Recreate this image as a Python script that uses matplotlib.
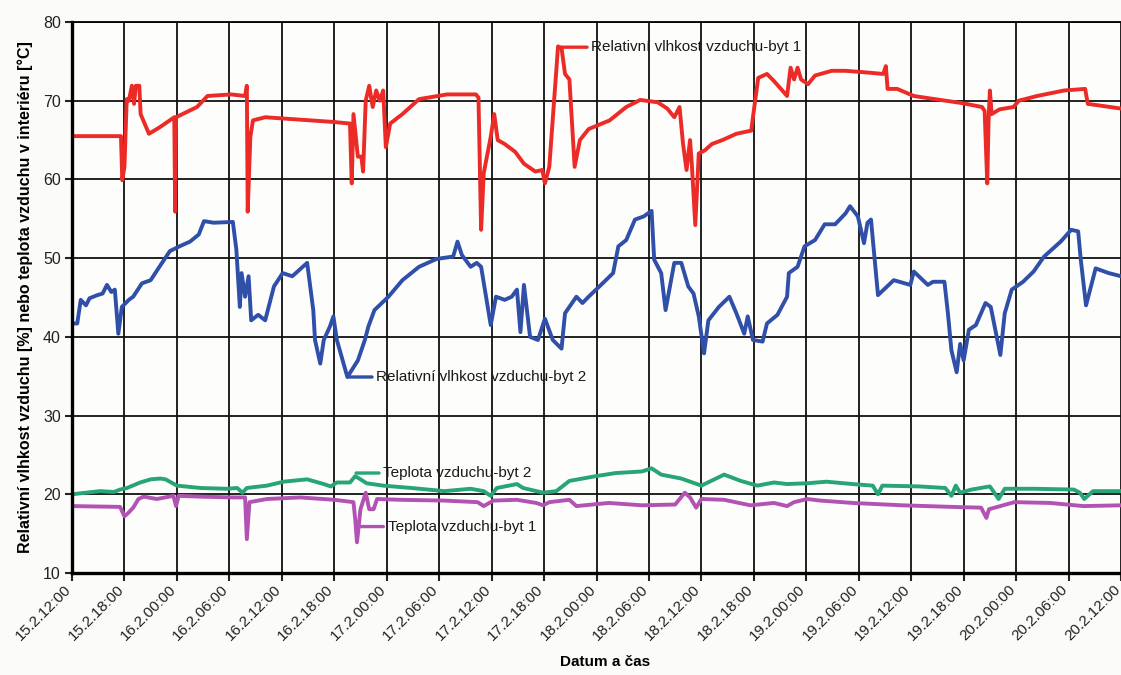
import matplotlib
matplotlib.use("Agg")
import matplotlib.pyplot as plt
import matplotlib.transforms as mtransforms
import numpy as np

plt.rcParams['font.family'] = ['Liberation Sans', 'DejaVu Sans']

# hours since 15.2. 12:00
tick_hours = list(range(0, 121, 6))
tick_labels = ['15.2.12:00', '15.2.18:00', '16.2.00:00', '16.2.06:00', '16.2.12:00',
               '16.2.18:00', '17.2.00:00', '17.2.06:00', '17.2.12:00', '17.2.18:00',
               '18.2.00:00', '18.2.06:00', '18.2.12:00', '18.2.18:00', '19.2.00:00',
               '19.2.06:00', '19.2.12:00', '19.2.18:00', '20.2.00:00', '20.2.06:00',
               '20.2.12:00']

# relative humidity, flat 1 [%]
rh1_h = [0, 5.6, 5.75, 6.0, 6.26, 6.5, 6.85, 7.1, 7.3, 7.7, 7.85, 8.8, 10.0, 11.7, 11.8,
         11.9, 14.3, 15.5, 18.2, 19.8, 20.0, 20.1, 20.4, 20.7, 22.1, 26.0, 29.9, 31.8,
         32.0, 32.2, 32.7, 33.1, 33.3, 33.6, 34.0, 34.4, 34.8, 35.2, 35.6, 35.9, 36.4,
         37.8, 39.7, 42.9, 46.2, 46.5, 46.8, 47.1, 47.9, 48.3, 48.7, 49.5, 50.7, 51.7,
         53.0, 53.8, 54.1, 54.6, 55.6, 56.0, 56.4, 56.9, 57.5, 58.1, 59.1, 61.5, 63.4,
         65.0, 67.0, 68.1, 68.9, 69.5, 69.9, 70.3, 70.7, 70.9, 71.3, 71.7, 72.4, 73.2,
         74.4, 76.0, 77.7, 78.1, 78.5, 79.5, 80.3, 81.1, 81.8, 82.2, 82.6, 83.0, 83.4,
         84.2, 85.0, 86.9, 88.5, 90.8, 92.8, 93.1, 93.3, 94.4, 96.3, 98.7, 101.8, 104.1,
         104.4, 104.7, 104.85, 105.0, 105.2, 106.1, 107.7, 108.3, 110.4, 113.5, 115.9,
         116.2, 117.5, 120.0]
rh1_v = [65.5, 65.5, 59.9, 61.6, 70.2, 70.0, 71.9, 69.6, 71.9, 71.9, 68.3, 65.8, 66.6,
         67.9, 55.9, 67.9, 69.2, 70.6, 70.8, 70.6, 71.9, 55.9, 65.4, 67.5, 67.9, 67.6,
         67.3, 67.1, 59.5, 68.3, 62.9, 62.9, 61.0, 70.0, 71.9, 69.2, 71.3, 70.0, 71.3,
         64.1, 67.1, 68.3, 70.2, 70.8, 70.8, 70.4, 53.6, 60.8, 65.4, 68.3, 65.0, 64.5,
         63.5, 62.0, 61.0, 61.2, 59.5, 61.6, 76.9, 76.7, 73.4, 72.7, 61.6, 65.0, 66.4,
         67.5, 69.2, 70.1, 69.8, 69.0, 67.9, 69.2, 64.5, 61.2, 65.0, 62.0, 54.2, 63.3,
         63.7, 64.5, 65.0, 65.8, 66.2, 69.6, 72.9, 73.4, 72.5, 71.5, 70.6, 74.2, 72.7,
         74.2, 72.7, 72.1, 73.2, 73.8, 73.8, 73.6, 73.4, 74.4, 71.5, 71.5, 70.6, 70.2,
         69.7, 69.2, 68.7, 59.5, 67.5, 71.3, 68.3, 68.9, 69.2, 70.0, 70.6, 71.3, 71.5,
         69.6, 69.4, 69.0]

# relative humidity, flat 2 [%]
rh2_h = [0, 0.6, 1.0, 1.6, 2.0, 2.9, 3.5, 4.0, 4.5, 4.9, 5.3, 5.7, 6.5, 7.0, 8.0, 9.0,
         10.0, 11.2, 12.3, 13.5, 14.5, 15.1, 16.2, 18.4, 18.8, 19.2, 19.4, 19.8, 20.2,
         20.5, 21.3, 22.1, 23.1, 24.1, 25.2, 26.0, 26.9, 27.6, 27.8, 28.4, 28.8, 29.5,
         29.9, 30.3, 31.5, 32.7, 33.5, 33.9, 34.6, 36.2, 37.8, 39.7, 41.7, 43.6, 44.1,
         44.6, 45.6, 46.3, 46.8, 47.9, 48.5, 49.5, 50.3, 50.9, 51.3, 51.7, 52.4, 53.3,
         54.1, 55.0, 56.0, 56.4, 57.7, 58.4, 59.1, 60.7, 61.9, 62.5, 63.4, 64.4, 65.4,
         66.3, 66.6, 67.4, 67.9, 68.9, 69.7, 70.5, 71.1, 71.7, 72.3, 72.8, 74.0, 75.2,
         76.0, 76.9, 77.3, 77.9, 79.0, 79.5, 80.7, 81.8, 82.0, 83.0, 83.8, 85.0, 86.1,
         87.3, 88.5, 89.0, 89.9, 90.6, 91.0, 91.4, 92.2, 94.0, 95.9, 96.3, 97.9, 98.5,
         99.8, 100.2, 100.6, 101.2, 101.6, 102.0, 102.6, 103.4, 104.5, 105.1, 106.2,
         106.7, 107.5, 108.8, 110.0, 111.2, 113.1, 114.3, 115.1, 115.4, 116.0, 117.1,
         118.6, 120.0]
rh2_v = [41.7, 41.7, 44.7, 44.0, 44.9, 45.3, 45.5, 46.6, 45.7, 46.0, 40.4, 43.8, 44.7,
         45.1, 46.8, 47.2, 48.9, 50.9, 51.5, 52.1, 53.0, 54.7, 54.5, 54.6, 51.1, 43.8,
         48.1, 45.1, 47.7, 42.1, 42.8, 42.1, 46.4, 48.1, 47.7, 48.5, 49.4, 43.4, 39.6,
         36.6, 39.6, 41.3, 42.6, 39.6, 34.9, 37.0, 39.6, 41.3, 43.4, 45.1, 47.2, 48.9,
         49.9, 50.2, 52.1, 50.4, 48.9, 49.4, 48.9, 41.5, 45.1, 44.7, 45.1, 46.0, 40.6,
         46.6, 40.0, 39.6, 42.3, 39.6, 38.5, 43.0, 45.1, 44.3, 45.1, 46.8, 48.1, 51.5,
         52.3, 54.9, 55.3, 56.0, 49.8, 48.1, 43.4, 49.4, 49.4, 46.4, 45.5, 42.6, 37.9,
         42.1, 43.8, 45.1, 43.0, 40.4, 42.6, 39.6, 39.4, 41.7, 42.8, 45.1, 48.1, 48.9,
         51.5, 52.3, 54.3, 54.3, 55.7, 56.6, 55.3, 51.9, 54.5, 54.9, 45.3, 47.2, 46.6,
         48.3, 46.6, 47.0, 47.0, 43.0, 38.3, 35.5, 39.1, 37.0, 40.9, 41.5, 44.3, 43.8,
         37.7, 43.0, 46.0, 47.0, 48.3, 50.2, 52.1, 53.6, 53.4, 49.8, 44.0, 48.7, 48.1,
         47.7]

# air temperature, flat 2 [°C]
t2_h = [0, 3.2, 4.8, 5.5, 6.3, 7.8, 9.0, 10.1, 10.7, 12.0, 14.7, 17.7, 18.9, 19.5, 20.0,
        22.3, 24.2, 26.9, 28.8, 29.6, 30.3, 31.8, 32.4, 33.0, 33.7, 35.6, 38.8, 42.6,
        45.6, 47.1, 47.9, 48.6, 50.9, 51.6, 53.9, 55.4, 56.9, 59.9, 62.2, 65.2, 66.3,
        67.4, 69.7, 72.0, 74.6, 76.5, 78.4, 80.3, 81.8, 84.1, 86.3, 89.3, 91.6, 92.2,
        92.7, 96.9, 99.9, 100.6, 101.1, 101.6, 102.9, 105.0, 106.0, 106.7, 110.0, 114.6,
        115.3, 115.8, 116.8, 120.0]
t2_v = [20.0, 20.4, 20.3, 20.6, 20.8, 21.5, 21.9, 22.0, 21.9, 21.1, 20.8, 20.7, 20.8,
        20.2, 20.8, 21.1, 21.6, 21.9, 21.3, 21.0, 21.5, 21.5, 22.3, 21.9, 21.4, 21.1,
        20.8, 20.4, 20.7, 20.4, 19.8, 20.8, 21.3, 20.8, 20.2, 20.4, 21.7, 22.3, 22.7,
        22.9, 23.3, 22.5, 22.0, 21.1, 22.5, 21.7, 21.1, 21.5, 21.3, 21.4, 21.6, 21.3,
        21.1, 20.0, 21.1, 21.0, 20.8, 19.8, 21.1, 20.2, 20.6, 21.0, 19.4, 20.7, 20.7,
        20.6, 20.2, 19.4, 20.4, 20.4]

# air temperature, flat 1 [°C]
t1_h = [0, 5.5, 6.0, 6.5, 7.0, 7.6, 8.2, 9.7, 11.6, 11.9, 12.2, 14.7, 18.5, 19.8, 20.0,
        20.3, 22.3, 26.1, 30.0, 32.2, 32.4, 32.6, 33.0, 33.6, 34.0, 34.5, 34.9, 37.6,
        42.6, 46.4, 47.1, 48.2, 50.9, 53.1, 53.9, 54.6, 56.9, 57.7, 61.4, 65.2, 69.0,
        70.1, 70.7, 71.4, 72.0, 74.6, 77.6, 80.3, 81.8, 82.6, 84.1, 85.6, 89.3, 95.0,
        100.6, 104.0, 104.6, 104.9, 107.8, 111.9, 115.7, 120.0]
t1_v = [18.5, 18.4, 17.2, 17.7, 18.3, 19.4, 19.7, 19.4, 19.8, 18.5, 19.8, 19.7, 19.6,
        19.6, 14.3, 19.0, 19.4, 19.6, 19.3, 19.0, 16.8, 13.9, 18.1, 20.2, 18.1, 18.1,
        19.4, 19.3, 19.2, 19.0, 18.5, 19.2, 19.3, 18.9, 18.6, 19.0, 19.3, 18.5, 18.9,
        18.6, 18.7, 20.2, 19.6, 18.3, 19.4, 19.3, 18.6, 18.9, 18.5, 19.0, 19.4, 19.2,
        18.9, 18.6, 18.4, 18.3, 17.0, 18.1, 19.0, 18.9, 18.5, 18.6]

RED = '#ec2a26'
BLUE = '#2f4fa8'
GREEN = '#27a574'
PURPLE = '#b253b3'

W, H = 1121, 675
fig = plt.figure(figsize=(W / 100, H / 100), dpi=100, facecolor='#fbfbf9')
ax = fig.add_axes([72 / W, (H - 573) / H, (1121 - 72) / W, (573 - 22) / H])
ax.set_facecolor('#fdfdfc')

ax.set_xlim(0, 120)
ax.set_ylim(10, 80)
ax.set_yticks(range(10, 81, 10))
ax.set_xticks(tick_hours)
ax.set_xticklabels(tick_labels, rotation=45, ha='right', rotation_mode='anchor')
ax.grid(True, color='#111111', lw=1.3)
ax.set_axisbelow(True)

lw = 2.8
ax.plot(t1_h, t1_v, color=PURPLE, lw=lw, solid_joinstyle='round')
ax.plot(t2_h, t2_v, color=GREEN, lw=lw, solid_joinstyle='round')
ax.plot(rh2_h, rh2_v, color=BLUE, lw=lw, solid_joinstyle='round')
ax.plot(rh1_h, rh1_v, color=RED, lw=lw, solid_joinstyle='round')

# series labels with leader lines
labels = [
    ('Relativní vlhkost vzduchu-byt 1', (56.0, 76.8), (59.4, 76.8), RED),
    ('Relativní vlhkost vzduchu-byt 2', (31.6, 34.9), (34.8, 34.9), BLUE),
    ('Teplota vzduchu-byt 2', (32.5, 22.7), (35.6, 22.7), GREEN),
    ('Teplota vzduchu-byt 1', (32.7, 15.9), (36.1, 15.9), PURPLE),
]
for text, xy, xytext, col in labels:
    ax.annotate(text, xy=xy, xytext=xytext, ha='left', va='center', fontsize=11,
                color='#1a1a1a',
                arrowprops=dict(arrowstyle='-', color=col, lw=2.4,
                                shrinkA=1, shrinkB=0))

for side in ('left', 'bottom'):
    ax.spines[side].set_linewidth(2.4)
ax.spines['top'].set_linewidth(1.3)
ax.spines['right'].set_visible(False)

ax.tick_params(axis='y', labelsize=11.5, length=5, width=1.5, pad=3, colors='#222222')
ax.tick_params(axis='x', labelsize=11, length=6, width=1.5, pad=4, colors='#222222')

# nudge the rotated date labels a little to the left
shift = mtransforms.ScaledTranslation(-0.08, 0.04, fig.dpi_scale_trans)
for lbl in ax.get_xticklabels():
    lbl.set_transform(lbl.get_transform() + shift)

ax.set_ylabel('Relativní vlhkost vzduchu [%] nebo teplota vzduchu v interiéru [°C]',
              fontsize=11.5, fontweight='bold', labelpad=7)
fig.text(605 / W, 1 - 662 / H, 'Datum a čas', ha='center', va='center',
         fontsize=11, fontweight='bold')

fig.savefig('out.png', dpi=100, facecolor=fig.get_facecolor())
